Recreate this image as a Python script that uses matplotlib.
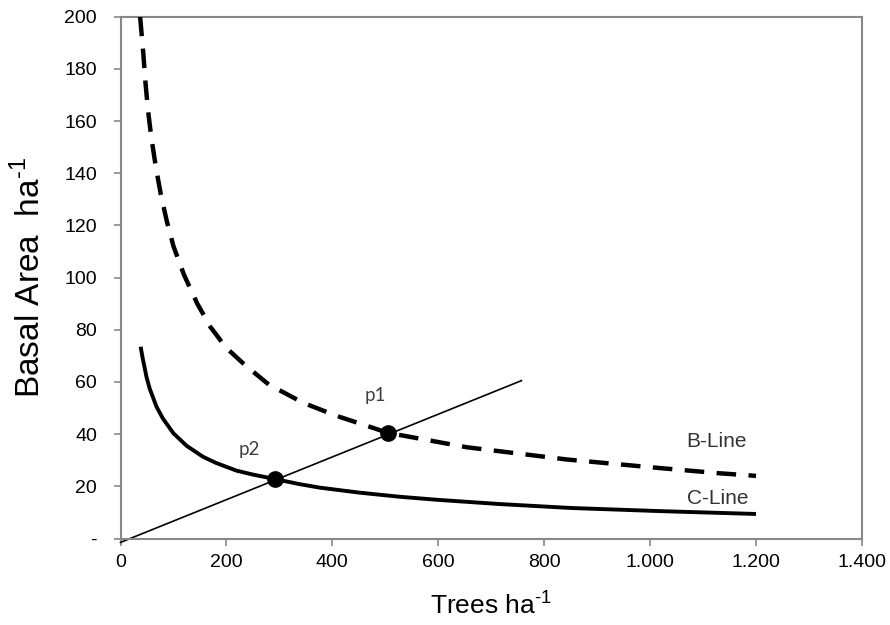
import matplotlib
matplotlib.use("Agg")
import matplotlib.pyplot as plt
from matplotlib.ticker import FixedLocator, FixedFormatter

# B-line (dashed)
b_x = [37, 40, 43, 47, 52, 58, 67, 76, 87, 100, 120, 145, 170, 200, 235, 280, 345, 408, 505, 653, 842, 1018, 1131, 1200]
b_y = [200, 193, 186, 175, 164, 154, 142, 132, 122, 112, 101, 90, 81, 73, 66.5, 59, 52, 47, 40.5, 35, 30.3, 27, 25, 24]

# C-line (solid)
c_x = [38, 42, 45, 49, 55, 68, 80, 100, 125, 156, 180, 219, 250, 291, 339, 376, 450, 527, 600, 716, 850, 1018, 1200]
c_y = [73.5, 69, 66, 62, 57.5, 50.5, 46, 40.3, 35.5, 31.3, 29, 26.0, 24.5, 22.8, 20.8, 19.5, 17.6, 16.0, 14.8, 13.2, 11.7, 10.5, 9.4]

# thin straight line through both points
s_x = [0, 757]
s_y = [-1.5, 60.5]

# marked points
pts_x = [505, 291]
pts_y = [40.3, 22.8]
pts_lab = ["p1", "p2"]

x_ticks = [0, 200, 400, 600, 800, 1000, 1200, 1400]
x_labels = ["0", "200", "400", "600", "800", "1.000", "1.200", "1.400"]
y_ticks = [0, 20, 40, 60, 80, 100, 120, 140, 160, 180, 200]
y_labels = ["-", "20", "40", "60", "80", "100", "120", "140", "160", "180", "200"]

plt.rcParams['font.family'] = ['Liberation Sans', 'DejaVu Sans']
plt.rcParams['mathtext.fontset'] = 'custom'
plt.rcParams['mathtext.rm'] = 'Liberation Sans'

fig = plt.figure(figsize=(8.9, 6.25), dpi=100)
ax = fig.add_axes([0.1354, 0.1384, 0.8331, 0.8349])

ax.plot(s_x, s_y, color='black', lw=1.2, clip_on=False, zorder=2)
ax.plot(b_x, b_y, color='black', lw=3.2, dashes=(4.4, 2.8), solid_joinstyle='round',
        dash_capstyle='butt', dash_joinstyle='round', zorder=3)
ax.plot(c_x, c_y, color='black', lw=2.8, solid_capstyle='butt', solid_joinstyle='round', zorder=3)
ax.plot(pts_x, pts_y, 'o', color='black', markersize=11, zorder=4)

ax.text(482, 55, pts_lab[0], fontsize=13.5, color='#404040', ha='center', va='center',
        family=['Lato', 'DejaVu Sans'])
ax.text(244, 34, pts_lab[1], fontsize=13.5, color='#404040', ha='center', va='center',
        family=['Lato', 'DejaVu Sans'])
ax.text(1125, 37, "B-Line", fontsize=15, color='#333333', ha='center', va='center')
ax.text(1128, 15.5, "C-Line", fontsize=15, color='#333333', ha='center', va='center')

ax.set_xlim(0, 1400)
ax.set_ylim(0, 200)
ax.xaxis.set_major_locator(FixedLocator(x_ticks))
ax.xaxis.set_major_formatter(FixedFormatter(x_labels))
ax.yaxis.set_major_locator(FixedLocator(y_ticks))
ax.yaxis.set_major_formatter(FixedFormatter(y_labels))

for s in ax.spines.values():
    s.set_color('#888888')
    s.set_linewidth(1.5)
ax.tick_params(axis='both', direction='out', length=5, width=1.2, color='#888888',
               labelsize=14, labelcolor='black')
ax.tick_params(axis='y', pad=12)
ax.tick_params(axis='x', pad=6)

ax.set_xlabel("Trees ha$^{\\text{-1}}$", fontsize=19, labelpad=14)
ax.set_ylabel("Basal Area  ha$^{\\text{-1}}$", fontsize=24, labelpad=12)

fig.savefig("out.png", dpi=100)
